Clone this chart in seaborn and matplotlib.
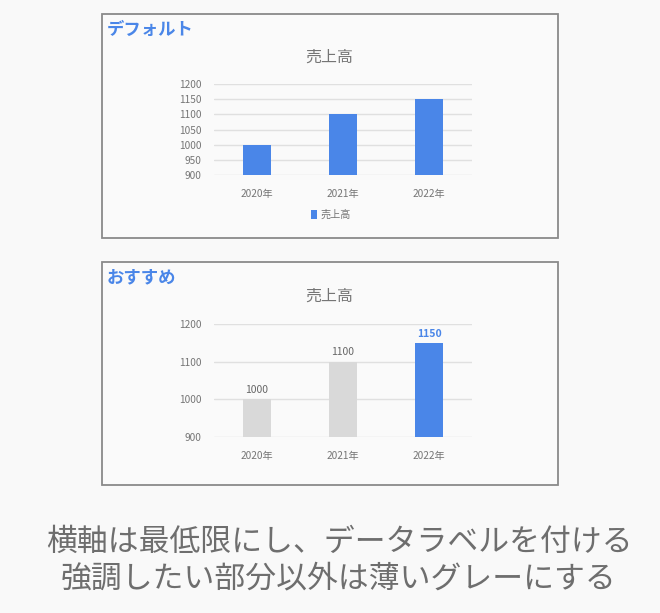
import matplotlib
matplotlib.use("Agg")
import matplotlib.pyplot as plt
from matplotlib.patches import Rectangle, Patch
import seaborn as sns
import pandas as pd

# ---- data ----
years = ["2020年", "2021年", "2022年"]
sales = [1000, 1100, 1150]
series_name = "売上高"
top_yticks = [900, 950, 1000, 1050, 1100, 1150, 1200]
bottom_yticks = [900, 1000, 1100, 1200]
highlight = "2022年"
panel_labels = ["デフォルト", "おすすめ"]
caption_lines = ["横軸は最低限にし、データラベルを付ける", "強調したい部分以外は薄いグレーにする"]

BLUE = "#4a86e8"
GRAY_BAR = "#d9d9d9"
TXT = "#757575"
GRID = "#e0e0e0"

sns.set_theme(style="white")
plt.rcParams['font.family'] = ['Noto Sans CJK JP', 'DejaVu Sans']

W, H = 660, 613
fig = plt.figure(figsize=(W / 100, H / 100), dpi=100)
fig.patch.set_facecolor("#f9f9f9")

def fx(px):
    return px / W

def fy(py):
    return 1 - py / H

# panel boxes
for (y0, y1) in [(14, 237.5), (261.5, 484.5)]:
    fig.add_artist(Rectangle((fx(101.5), fy(y1)), fx(558) - fx(101.5), fy(y0) - fy(y1),
                             transform=fig.transFigure, facecolor="#fafafa",
                             edgecolor="#8a8a8a", linewidth=1.3, zorder=0))

df = pd.DataFrame({"year": years, "sales": sales})

def style_axes(ax, yticks):
    ax.set_facecolor("none")
    for s in ax.spines.values():
        s.set_visible(False)
    ax.set_ylim(yticks[0], yticks[-1])
    ax.set_yticks(yticks)
    ax.set_xlim(-0.5, 2.5)
    ax.yaxis.grid(True, color=GRID, linewidth=1.0)
    ax.set_axisbelow(True)
    ax.set_xlabel("")
    ax.set_ylabel("")
    ax.tick_params(axis="y", length=0, pad=9, labelsize=7.3, labelcolor=TXT)
    ax.tick_params(axis="x", length=0, pad=10, labelsize=7.3, labelcolor=TXT)

# ---- top: default ----
ax1 = fig.add_axes([fx(214), fy(175), fx(472) - fx(214), fy(84) - fy(175)])
sns.barplot(data=df, x="year", y="sales", color=BLUE, saturation=1, width=0.315,
            linewidth=0, ax=ax1)
style_axes(ax1, top_yticks)
fig.text(fx(329), fy(57), series_name, ha="center", va="center", fontsize=11.5, color=TXT)
fig.text(fx(107), fy(30), panel_labels[0], ha="left", va="center", fontsize=12.5,
         fontweight="bold", color=BLUE)
ax1.legend(handles=[Patch(facecolor=BLUE, edgecolor="none", label=series_name)],
           loc="center", bbox_to_anchor=(fx(331), fy(215)), bbox_transform=fig.transFigure,
           frameon=False, fontsize=7.3, handlelength=0.6, handleheight=0.9, handletextpad=0.3,
           labelcolor=TXT)

# ---- bottom: recommended ----
ax2 = fig.add_axes([fx(214), fy(437), fx(472) - fx(214), fy(324) - fy(437)])
palette = {y: (BLUE if y == highlight else GRAY_BAR) for y in years}
sns.barplot(data=df, x="year", y="sales", hue="year", palette=palette, saturation=1,
            width=0.315, linewidth=0, legend=False, ax=ax2)
style_axes(ax2, bottom_yticks)
for cont in ax2.containers:
    texts = ax2.bar_label(cont, fmt="%d", padding=3, fontsize=7.5, color="#666666")
    for bar, t in zip(cont, texts):
        if abs(bar.get_height() - sales[years.index(highlight)]) < 1e-9:
            t.set_color(BLUE)
            t.set_fontweight("bold")
fig.text(fx(329), fy(296), series_name, ha="center", va="center", fontsize=11.5, color=TXT)
fig.text(fx(107), fy(277), panel_labels[1], ha="left", va="center", fontsize=12.5,
         fontweight="bold", color=BLUE)

# ---- caption ----
fig.text(fx(339), fy(542), caption_lines[0], ha="center", va="center", fontsize=22.2, color="#6e6e6e")
fig.text(fx(339), fy(579), caption_lines[1], ha="center", va="center", fontsize=22.2, color="#6e6e6e")

fig.savefig("out.png", dpi=100, facecolor=fig.get_facecolor())
